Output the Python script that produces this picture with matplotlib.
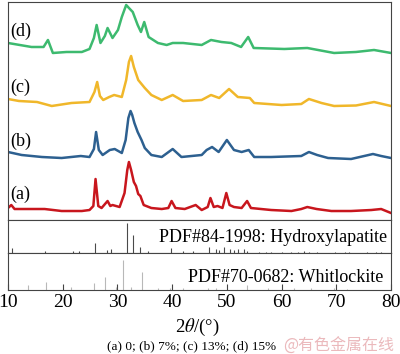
import matplotlib
matplotlib.use('Agg')
import matplotlib.pyplot as plt

plt.rcParams['font.family'] = ['Liberation Serif', 'DejaVu Serif']
plt.rcParams['mathtext.fontset'] = 'stix'

# XRD patterns, intensity above each curve's own baseline (a.u.)
theta_a = [10.0, 10.6, 11.2, 12.0, 16.7, 19.8, 23.5, 24.9, 25.6, 26.0, 26.5, 27.1, 28.2, 28.7,
           29.1, 30.4, 31.3, 31.8, 32.1, 32.5, 33.0, 33.4, 33.8, 34.2, 34.8, 36.2, 38.1, 39.3,
           39.9, 40.6, 42.3, 44.3, 45.4, 46.5, 47.0, 47.6, 48.3, 49.2, 49.9, 50.5, 51.3, 52.7,
           53.7, 54.4, 58.1, 61.8, 63.6, 64.7, 66.4, 69.1, 72.7, 76.4, 78.2, 80.0]
int_a = [12, 15, 11, 11, 11, 9, 9, 10, 14, 41, 14, 12, 19, 14,
         15, 13, 27, 50, 58, 50, 38, 34, 26, 24, 15, 12, 11, 12,
         19, 12, 11, 15, 10, 13, 22, 13, 14, 12, 27, 15, 13, 12,
         19, 12, 10, 9, 11, 13, 11, 9, 9, 10, 11, 7]

theta_b = [10.0, 12.5, 16.2, 19.8, 23.3, 24.9, 25.7, 26.1, 26.6, 27.3, 28.6, 29.5, 30.8, 31.5,
           32.0, 32.4, 32.7, 33.1, 33.7, 34.4, 35.0, 36.2, 38.1, 40.1, 41.7, 45.4, 46.3, 47.3,
           48.5, 50.0, 51.3, 52.7, 54.0, 55.0, 58.1, 63.6, 65.0, 66.5, 68.5, 72.7, 76.7, 78.2, 80.0]
int_b = [13, 10, 8, 7, 9, 8, 16, 33, 15, 10, 15, 16, 12, 25,
         47, 54, 50, 42, 33, 25, 17, 10, 8, 16, 8, 10, 15, 18,
         13, 25, 15, 13, 15, 8, 8, 9, 13, 10, 7, 6, 11, 9, 7]

theta_c = [10.0, 12.0, 15.3, 18.0, 21.6, 24.9, 25.8, 26.3, 26.8, 27.4, 28.5, 29.4, 30.8, 31.6,
           32.1, 32.5, 33.0, 33.8, 35.0, 36.2, 38.1, 40.1, 42.0, 45.4, 47.1, 48.6, 50.4, 52.0,
           54.2, 55.0, 60.0, 63.6, 65.0, 67.3, 69.6, 73.6, 76.9, 80.0]
int_c = [13, 11, 10, 6, 9, 10, 20, 30, 16, 12, 15, 17, 15, 32,
         50, 56, 45, 32, 24, 17, 12, 17, 11, 12, 17, 14, 23, 15,
         14, 9, 7, 8, 13, 9, 6, 6.5, 10, 6]

theta_d = [10.0, 14.3, 16.5, 17.3, 18.2, 20.7, 23.5, 24.9, 25.7, 26.2, 26.9, 27.7, 28.2, 29.1,
           30.1, 30.8, 31.6, 32.1, 32.8, 33.7, 34.3, 34.9, 35.7, 37.4, 39.0, 40.1, 42.0, 45.4,
           47.1, 49.0, 50.8, 52.6, 53.9, 54.9, 60.5, 64.7, 69.6, 73.6, 76.9, 80.0]
int_d = [17, 13, 13, 20, 7, 8, 8, 11, 22, 35, 17, 24, 32, 22,
         30, 43, 55, 52, 48, 35, 28, 38, 23, 17, 15, 17, 17, 15,
         20, 18, 17, 13, 23, 12, 11, 12, 7, 8, 10, 7]

labels = ['(a)', '(b)', '(c)', '(d)']
colors = ['#c8161d', '#2d6090', '#f0b72a', '#3dba6f']

# reference cards (line positions and relative heights)
ha_pos = [10.8, 16.8, 21.8, 22.9, 25.9, 28.1, 28.9, 31.8, 32.9, 34.1, 35.5, 39.8, 42.0, 43.8,
          46.7, 48.1, 48.6, 49.5, 50.5, 51.3, 52.1, 53.2, 53.7, 55.9, 57.1, 58.1, 60.0, 61.7,
          63.0, 64.1, 65.0, 66.4, 69.7, 71.6, 72.3, 75.6, 77.2, 78.2]
ha_int = [17, 6, 6, 6, 33, 10, 13, 100, 60, 20, 6, 17, 6, 6,
          20, 13, 10, 20, 13, 10, 13, 13, 6, 5, 5, 3, 3, 5,
          5, 6, 5, 3, 3, 3, 3, 3, 3, 3]
wh_pos = [13.6, 17.0, 21.6, 25.8, 27.8, 29.7, 31.0, 32.5, 34.4, 37.5, 39.6, 42.0, 46.6, 48.1,
          53.6, 57.5, 62.3, 65.4, 69.6, 72.0]
wh_int = [17, 27, 10, 23, 43, 10, 100, 10, 60, 7, 7, 7, 7, 7,
          17, 7, 7, 7, 7, 3]

xticks = [10, 20, 30, 40, 50, 60, 70, 80]

fig = plt.figure(figsize=(4.0, 3.54), dpi=100)
ax = fig.add_axes([0.02, 0.3785, 0.9575, 0.6159])
ax_ha = fig.add_axes([0.02, 0.2853, 0.9575, 0.0932], sharex=ax)
ax_wh = fig.add_axes([0.02, 0.1808, 0.9575, 0.1045], sharex=ax)

offsets = [0, 55, 108, 160]
lab_y = [26, 79, 133, 189]
series = [(theta_a, int_a), (theta_b, int_b), (theta_c, int_c), (theta_d, int_d)]
for (t, y), c, off, lab, ly in zip(series, colors, offsets, labels, lab_y):
    ax.plot(t, [v + off for v in y], color=c, lw=1.8, solid_joinstyle='round')
    ax.text(10.5, ly, lab, fontsize=13, va='center', ha='left')
ax.set_ylim(0, 218)

ax_ha.vlines(ha_pos, 0, [h * 0.30 for h in ha_int], color='#4a4a4a', lw=0.8)
ax_ha.set_ylim(0, 33)
ax_ha.text(79.3, 11, 'PDF#84-1998: Hydroxylapatite', ha='right', va='baseline', fontsize=13)

ax_wh.vlines(wh_pos, 0, [h * 0.30 for h in wh_int], color='#b8b8b8', lw=0.8)
ax_wh.set_ylim(0, 37)
ax_wh.text(78.6, 8, 'PDF#70-0682: Whitlockite', ha='right', va='baseline', fontsize=13)

for a in (ax, ax_ha, ax_wh):
    a.set_xlim(10, 80)
    a.set_yticks([])
    for s in a.spines.values():
        s.set_color('#444444')
        s.set_linewidth(0.8)
    a.tick_params(axis='x', direction='in', length=4, width=0.8, color='#444444')
for a in (ax, ax_ha):
    a.tick_params(axis='x', length=0, labelbottom=False)

ax_wh.set_xticks(xticks)
ax_wh.tick_params(axis='x', labelsize=14, pad=3)

fig.text(197 / 400, 1 - 327 / 354, r'2$\theta$/(°)', ha='center', va='center', fontsize=13.5)
fig.text(192 / 400, 1 - 346 / 354, '(a) 0; (b) 7%; (c) 13%; (d) 15%',
         ha='center', va='center', fontsize=9.5)
fig.text(283 / 400, 1 - 346 / 354, '@有色金属在线', ha='left', va='center', fontsize=11.5,
         color='#ebb9bc', family=['Noto Sans CJK SC', 'DejaVu Sans'])

fig.savefig('out.png', dpi=100, facecolor='white')
